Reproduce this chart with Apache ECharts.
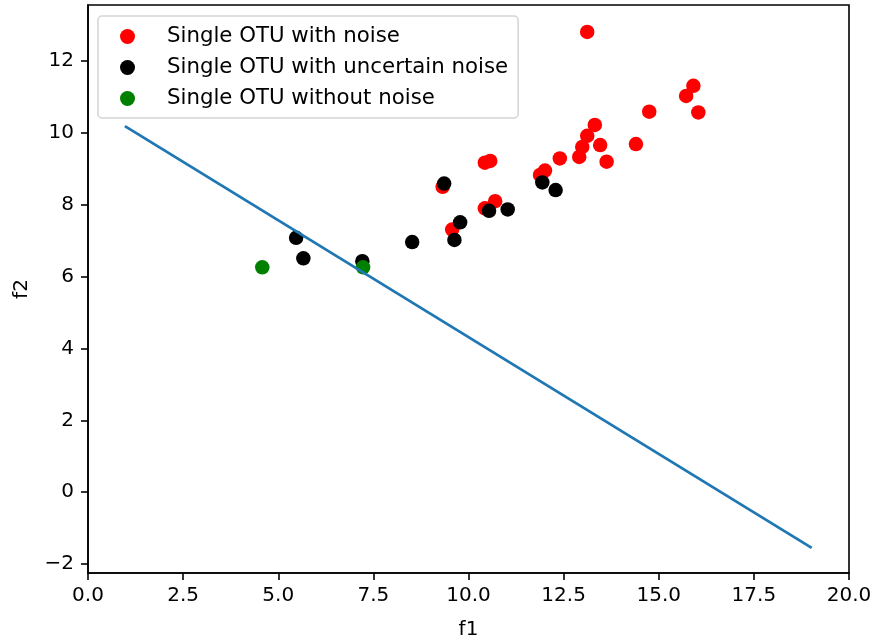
<!DOCTYPE html>
<html>
<head>
<meta charset="utf-8">
<script src="https://cdn.jsdelivr.net/npm/echarts@6/dist/echarts.min.js"></script>
<style>html,body{margin:0;padding:0;background:#fff;}#c{width:876px;height:639px;}</style>
</head>
<body>
<div id="c"></div>
<script>
const seriesNames = ["Single OTU with noise", "Single OTU with uncertain noise", "Single OTU without noise"];
const noisePts = [
  [13.12,12.81],[15.91,11.31],[15.72,11.03],[14.75,10.59],[16.04,10.57],[13.32,10.22],
  [13.12,9.92],[12.99,9.61],[13.46,9.66],[14.40,9.69],[12.91,9.33],[13.63,9.20],
  [12.40,9.29],[12.01,8.95],[11.88,8.83],[10.43,9.17],[10.57,9.22],[9.32,8.50],
  [10.70,8.10],[10.43,7.90],[9.57,7.31]
];
const uncertainPts = [
  [9.36,8.59],[11.94,8.62],[12.29,8.41],[11.03,7.87],[10.54,7.83],[9.78,7.51],
  [9.63,7.02],[5.47,7.08],[5.66,6.51],[7.21,6.43],[8.52,6.96]
];
const noNoisePts = [[4.58,6.26],[7.23,6.26]];
const linePts = [[0.97,10.19],[19.02,-1.55]];
const xTicks = [0,2.5,5,7.5,10,12.5,15,17.5,20];
const yTicks = [-2,0,2,4,6,8,10,12];

const FONT = "DejaVu Sans";
const chart = echarts.init(document.getElementById('c'), null, {renderer:'canvas'});
const axisCommon = {
  axisLine:{show:true,onZero:false,lineStyle:{color:'#000',width:1.6}},
  axisTick:{show:true,inside:false,length:7,lineStyle:{color:'#000',width:1.6}},
  splitLine:{show:false},
  nameTextStyle:{fontFamily:FONT,fontSize:20,color:'#000'},
};
chart.setOption({
  animation:false,
  backgroundColor:'#fff',
  grid:{left:88,right:27,top:5,bottom:66,outerBoundsMode:'none',containLabel:false,show:true,borderColor:'#000',borderWidth:1.6,backgroundColor:'transparent'},
  legend:{
    orient:'vertical', left:98, top:16,
    padding:[10,10,9,22], itemGap:10,
    itemWidth:15, itemHeight:15,
    backgroundColor:'#fff', borderColor:'#d4d4d4', borderWidth:1.5, borderRadius:4,
    data:seriesNames.map(n=>({name:n,icon:'circle'})),
    textStyle:{fontFamily:FONT,fontSize:21.3,color:'#000',lineHeight:20,padding:[0,0,0,27]}
  },
  xAxis:Object.assign({}, axisCommon, {
    type:'value', min:0, max:20, name:'f1', nameLocation:'middle', nameGap:47,
    axisLabel:{customValues:xTicks, formatter:v=>v.toFixed(1), fontFamily:FONT,fontSize:20,color:'#000',margin:13},
    axisTick:Object.assign({}, axisCommon.axisTick, {customValues:xTicks})
  }),
  yAxis:Object.assign({}, axisCommon, {
    type:'value', min:-2.25, max:13.56, name:'f2', nameLocation:'middle', nameGap:56,
    axisLabel:{customValues:yTicks, formatter:v=>v<0?'\u2212'+Math.abs(v):String(v), fontFamily:FONT,fontSize:20,color:'#000',margin:14},
    axisTick:Object.assign({}, axisCommon.axisTick, {customValues:yTicks})
  }),
  series:[
    {name:seriesNames[0],type:'scatter',data:noisePts,symbol:'circle',symbolSize:14.5,itemStyle:{color:'#ff0000',opacity:1},z:2},
    {name:seriesNames[1],type:'scatter',data:uncertainPts,symbol:'circle',symbolSize:14.5,itemStyle:{color:'#000000',opacity:1},z:3},
    {name:seriesNames[2],type:'scatter',data:noNoisePts,symbol:'circle',symbolSize:14.5,itemStyle:{color:'#008000',opacity:1},z:4},
    {name:'line',type:'line',data:linePts,showSymbol:false,symbol:'none',lineStyle:{color:'#1f77b4',width:2.8},z:5,silent:true}
  ]
});
</script>
</body>
</html>
